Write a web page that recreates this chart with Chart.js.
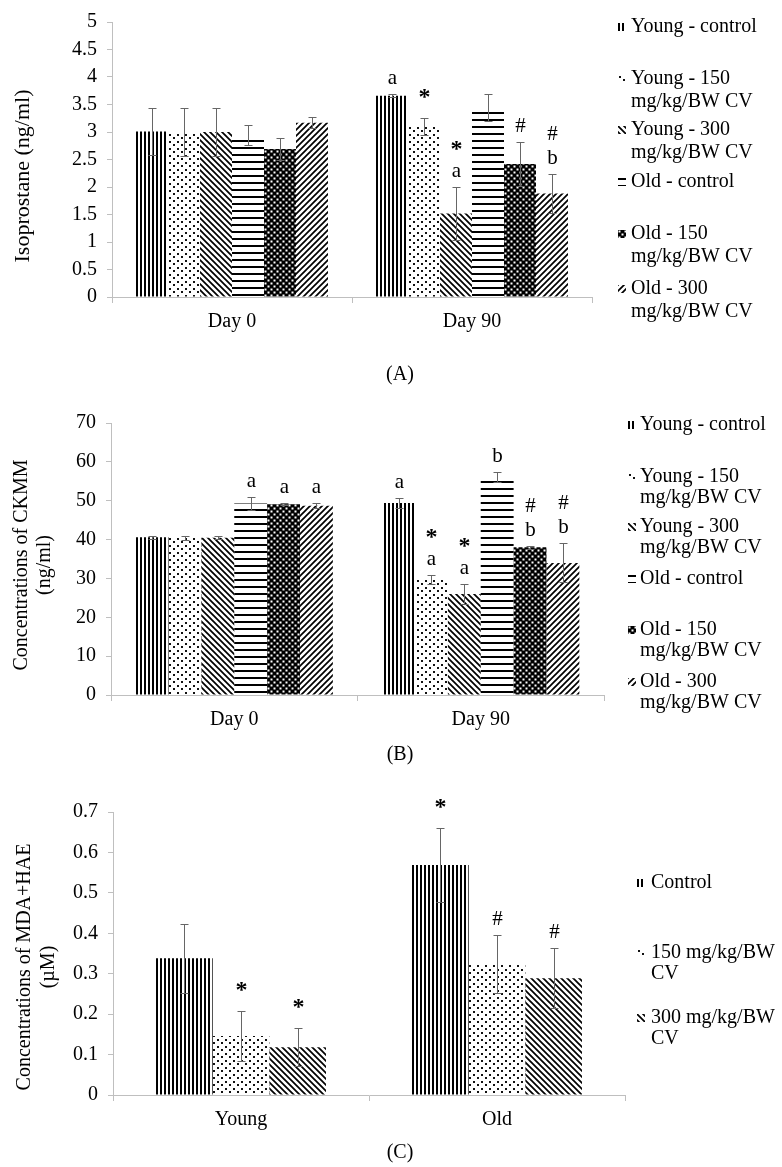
<!DOCTYPE html>
<html>
<head>
<meta charset="utf-8">
<title>Isoprostane / CKMM / MDA+HAE</title>
<script src="https://cdn.jsdelivr.net/npm/chart.js@4.4.1/dist/chart.umd.min.js"></script>
<style>
  html, body { margin: 0; padding: 0; background: #fff; }
  #page { position: relative; width: 782px; height: 1167px; overflow: hidden; }
  #page canvas { position: absolute; left: 0; }
</style>
</head>
<body>
<div id="page">
  <canvas id="chart-a" width="782" height="390" style="top:0"></canvas>
  <canvas id="chart-b" width="782" height="375" style="top:390px"></canvas>
  <canvas id="chart-c" width="782" height="402" style="top:765px"></canvas>
</div>
<script>
// ---------- data ----------
const dayLabels = ['Day 0', 'Day 90'];
const ageLabels = ['Young', 'Old'];

const sixGroups = [
  ['Young - control'],
  ['Young - 150', 'mg/kg/BW CV'],
  ['Young - 300', 'mg/kg/BW CV'],
  ['Old - control'],
  ['Old - 150', 'mg/kg/BW CV'],
  ['Old - 300', 'mg/kg/BW CV'],
];
const doseGroups = [['Control'], ['150 mg/kg/BW', 'CV'], ['300 mg/kg/BW', 'CV']];

// (A) Isoprostane, ng/ml  -> [Day 0, Day 90] per group
const isoMean  = [[3.01, 3.66], [3.0, 3.1], [3.0, 1.52], [2.94, 3.45], [2.69, 2.42], [3.17, 1.88]];
const isoErr   = [[0.43, 0.03], [0.43, 0.15], [0.43, 0.48], [0.18, 0.25], [0.2, 0.4], [0.1, 0.35]];
const isoMarks = [['', 'a'], ['', '*'], ['', '*|a'], ['', ''], ['', '#'], ['', '#|b']];

// (B) CKMM, ng/ml
const ckMean  = [[40.6, 49.4], [40.5, 29.7], [40.5, 26.0], [49.3, 56.2], [49.1, 38.0], [48.7, 34.0]];
const ckErr   = [[0.4, 1.2], [0.5, 1.2], [0.3, 2.5], [1.7, 1.3], [0.3, 0.4], [0.6, 5.0]];
const ckMarks = [['', 'a'], ['', '*|a'], ['', '*|a'], ['a', 'b'], ['a', '#|b'], ['a', '#|b']];

// (C) MDA+HAE, µM  -> [Young, Old] per dose
const mdaMean  = [[0.338, 0.569], [0.146, 0.324], [0.118, 0.289]];
const mdaErr   = [[0.085, 0.092], [0.061, 0.071], [0.047, 0.074]];
const mdaMarks = [['', '*'], ['*', '#'], ['*', '#']];

// ---------- look ----------
const FONT = "'Liberation Serif', 'Times New Roman', serif";
const AXIS_GREY = '#bfbfbf';
Chart.defaults.font.family = FONT;
Chart.defaults.font.size = 20;
Chart.defaults.color = '#000';

function makePattern(w, h, draw) {
  const c = document.createElement('canvas');
  c.width = w; c.height = h;
  const g = c.getContext('2d');
  draw(g, w, h);
  return g.createPattern(c, 'repeat');
}

const PAT = {
  vertical: makePattern(4, 4, g => { g.fillStyle = '#000'; g.fillRect(0, 0, 2, 4); }),
  dots: makePattern(8, 7, g => {
    g.fillStyle = '#111';
    g.fillRect(1, 1, 2, 2);
    g.fillRect(5, 4, 2, 2);
  }),
  back: makePattern(6, 6, g => {
    g.strokeStyle = '#000'; g.lineWidth = 1.7;
    g.beginPath();
    g.moveTo(-1, -1); g.lineTo(7, 7);
    g.moveTo(-1, 5); g.lineTo(1, 7);
    g.moveTo(5, -1); g.lineTo(7, 1);
    g.stroke();
  }),
  horizontal: makePattern(7, 7, g => { g.fillStyle = '#000'; g.fillRect(0, 0, 7, 2); }),
  dense: makePattern(6, 6, g => {
    g.fillStyle = '#000'; g.fillRect(0, 0, 6, 6);
    g.fillStyle = '#fff';
    g.fillRect(0.5, 0.5, 2, 2);
    g.fillRect(3.5, 3.5, 2, 2);
  }),
  forward: makePattern(6, 6, g => {
    g.strokeStyle = '#000'; g.lineWidth = 1.7;
    g.beginPath();
    g.moveTo(-1, 7); g.lineTo(7, -1);
    g.moveTo(-1, 1); g.lineTo(1, -1);
    g.moveTo(5, 7); g.lineTo(7, 5);
    g.stroke();
  }),
};
const sixPatterns = [PAT.vertical, PAT.dots, PAT.back, PAT.horizontal, PAT.dense, PAT.forward];
const threePatterns = [PAT.vertical, PAT.dots, PAT.back];

// ---------- plugins ----------
// error bars + significance letters, read from dataset.err / dataset.marks
const errorBars = {
  id: 'errorBars',
  afterDatasetsDraw(chart) {
    const { ctx } = chart;
    const y = chart.scales.y;
    ctx.save();
    chart.data.datasets.forEach((ds, i) => {
      const meta = chart.getDatasetMeta(i);
      meta.data.forEach((bar, j) => {
        const m = ds.data[j], e = ds.err[j];
        const top = Math.round(y.getPixelForValue(m + e)) + 0.5;
        const bot = Math.round(y.getPixelForValue(m - e)) + 0.5;
        const x = Math.round(bar.x) + 0.5;
        ctx.strokeStyle = '#666';
        ctx.lineWidth = 1;
        ctx.beginPath();
        ctx.moveTo(x, top); ctx.lineTo(x, bot);
        ctx.moveTo(x - 4, top); ctx.lineTo(x + 4, top);
        ctx.moveTo(x - 4, bot); ctx.lineTo(x + 4, bot);
        ctx.stroke();

        const mark = ds.marks[j];
        if (!mark) return;
        ctx.fillStyle = '#000';
        ctx.textAlign = 'center';
        ctx.textBaseline = 'middle';
        mark.split('|').reverse().forEach((t, k) => {
          let ty;
          if (t === '*') {
            ctx.font = `bold 24px ${FONT}`;
            ty = top - 21 - k * 17;
          } else {
            ctx.font = `21px ${FONT}`;
            ty = top - 16 - k * 24;
          }
          ctx.fillText(t, x, ty);
        });
      });
    });
    ctx.restore();
  }
};

// side legend, y-axis title and panel caption
const decor = {
  id: 'decor',
  afterDraw(chart, args, o) {
    const { ctx, chartArea } = chart;
    ctx.save();
    ctx.fillStyle = '#000';
    ctx.textBaseline = 'middle';

    // legend
    ctx.font = `20px ${FONT}`;
    ctx.textAlign = 'left';
    o.legend.forEach((lines, i) => {
      const ry = chartArea.top + o.rows[i];
      ctx.save();
      ctx.translate(o.markX, ry - 4);
      ctx.fillStyle = o.patterns[i];
      ctx.fillRect(0, 0, 8, 8);
      ctx.restore();
      ctx.fillStyle = '#000';
      lines.forEach((t, k) => ctx.fillText(t, o.textX, ry + k * o.lineGap));
    });

    // y title (rotated)
    ctx.textAlign = 'center';
    ctx.font = `${o.yTitleSize}px ${FONT}`;
    o.yTitle.forEach((t, k) => {
      ctx.save();
      ctx.translate(o.yTitleX[k], o.yTitleY);
      ctx.rotate(-Math.PI / 2);
      ctx.fillText(t, 0, 0);
      ctx.restore();
    });

    // caption
    ctx.font = `20px ${FONT}`;
    ctx.fillText(o.caption, o.captionX, o.captionY);
    ctx.restore();
  }
};

function makeChart(id, cfg) {
  const H = document.getElementById(id).height;
  return new Chart(document.getElementById(id), {
    type: 'bar',
    data: {
      labels: cfg.labels,
      datasets: cfg.mean.map((d, i) => ({
        data: d,
        err: cfg.err[i],
        marks: cfg.marks[i],
        backgroundColor: cfg.patterns[i],
        borderWidth: 0,
        categoryPercentage: cfg.catPct,
        barPercentage: 1,
      }))
    },
    options: {
      responsive: false,
      animation: false,
      devicePixelRatio: 1,
      layout: { padding: { top: cfg.plotTop, right: 782 - cfg.plotRight, left: 0, bottom: 0 } },
      plugins: {
        legend: { display: false },
        tooltip: { enabled: false },
        decor: cfg.decor,
      },
      scales: {
        x: {
          ticks: { padding: 7, color: '#000', font: { size: 20 } },
          grid: { offset: true, drawOnChartArea: false, tickLength: 6, color: AXIS_GREY },
          border: { color: AXIS_GREY },
          afterFit: s => { s.height = H - cfg.plotBottom; },
        },
        y: {
          min: 0, max: cfg.max,
          ticks: {
            stepSize: cfg.step, padding: 10, color: '#000', font: { size: 20 },
            callback: v => String(Number(v.toFixed(2))),
          },
          grid: { drawOnChartArea: false, tickLength: 5, color: AXIS_GREY },
          border: { color: AXIS_GREY },
          afterFit: s => { s.width = cfg.plotLeft; },
        }
      }
    },
    plugins: [errorBars, decor]
  });
}

// (A)
makeChart('chart-a', {
  labels: dayLabels, mean: isoMean, err: isoErr, marks: isoMarks, patterns: sixPatterns,
  max: 5, step: 0.5, catPct: 0.8,
  plotTop: 15, plotBottom: 297, plotLeft: 112, plotRight: 592,
  decor: {
    legend: sixGroups, patterns: sixPatterns,
    rows: [5, 57, 108, 160, 212, 267], lineGap: 23,
    markX: 618, textX: 631,
    yTitle: ['Isoprostane (ng/ml)'], yTitleX: [23], yTitleY: 176, yTitleSize: 22,
    caption: '(A)', captionX: 400, captionY: 375,
  }
});

// (B)
makeChart('chart-b', {
  labels: dayLabels, mean: ckMean, err: ckErr, marks: ckMarks, patterns: sixPatterns,
  max: 70, step: 10, catPct: 0.8,
  plotTop: 33, plotBottom: 305, plotLeft: 111, plotRight: 604,
  decor: {
    legend: sixGroups, patterns: sixPatterns,
    rows: [2, 54, 104, 156, 207, 259], lineGap: 21,
    markX: 628, textX: 640,
    yTitle: ['Concentrations of CKMM', '(ng/ml)'], yTitleX: [22, 45], yTitleY: 175, yTitleSize: 20,
    caption: '(B)', captionX: 400, captionY: 365,
  }
});

// (C)
makeChart('chart-c', {
  labels: ageLabels, mean: mdaMean, err: mdaErr, marks: mdaMarks, patterns: threePatterns,
  max: 0.7, step: 0.1, catPct: 0.664,
  plotTop: 47, plotBottom: 330, plotLeft: 113, plotRight: 625,
  decor: {
    legend: doseGroups, patterns: threePatterns,
    rows: [71, 141, 206], lineGap: 21,
    markX: 637, textX: 651,
    yTitle: ['Concentrations of MDA+HAE', '(µM)'], yTitleX: [25, 49], yTitleY: 202, yTitleSize: 20,
    caption: '(C)', captionX: 400, captionY: 388,
  }
});
</script>
</body>
</html>
